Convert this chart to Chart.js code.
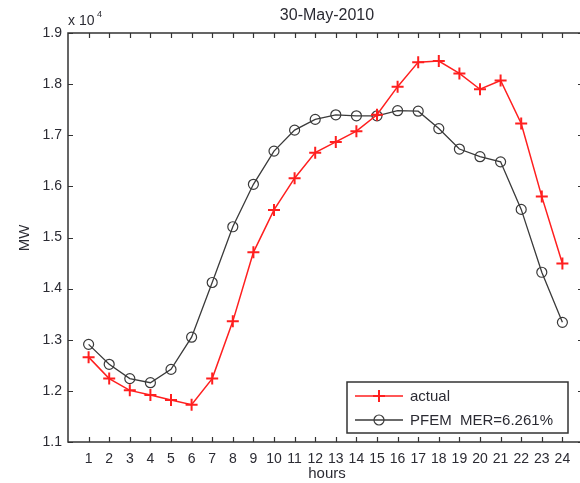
<!DOCTYPE html>
<html>
<head>
<meta charset="utf-8">
<script src="https://cdn.jsdelivr.net/npm/chart.js@4.4.1/dist/chart.umd.min.js"></script>
<style>
    html, body { margin: 0; padding: 0; background: #fff; overflow: hidden; }
    #wrap { width: 592px; height: 483px; }
</style>
</head>
<body>
<div id="wrap"><canvas id="myChart" width="592" height="483"></canvas></div>
<script>
const hours = [1, 2, 3, 4, 5, 6, 7, 8, 9, 10, 11, 12, 13, 14, 15, 16, 17, 18, 19, 20, 21, 22, 23, 24];
const actual = [12660, 12240, 12010, 11920, 11820, 11730, 12240, 13360, 14710, 15540, 16160, 16660,
    16870, 17080, 17400, 17950, 18430, 18450, 18210, 17900, 18070, 17230, 15800, 14490];
const pfem = [12910, 12520, 12240, 12160, 12420, 13050, 14120, 15210, 16040, 16690, 17100, 17310,
    17400, 17380, 17380, 17480, 17470, 17130, 16730, 16580, 16480, 15550, 14320, 13340];
const yTicks = [11000, 12000, 13000, 14000, 15000, 16000, 17000, 18000, 19000];

const titleText = '30-May-2010';
const xLabel = 'hours';
const yLabel = 'MW';
const legendLabels = ['actual', 'PFEM  MER=6.261%'];

const textColor = '#2b2b33';
const axisColor = '#333';
const fontFamily = '"Liberation Sans", Arial, Helvetica, sans-serif';

// draws the matlab style frame, inward ticks, labels and legend
const matlabFrame = {
    id: 'matlabFrame',
    beforeDatasetsDraw(chart) {
        const { ctx, chartArea: a, scales } = chart;
        ctx.save();
        ctx.strokeStyle = axisColor;
        ctx.lineWidth = 1.5;
        ctx.strokeRect(a.left, a.top, a.right - a.left, a.bottom - a.top);
        ctx.lineWidth = 1.2;
        ctx.beginPath();
        hours.forEach(h => {
            const x = Math.round(scales.x.getPixelForValue(h)) + 0.5;
            ctx.moveTo(x, a.bottom);
            ctx.lineTo(x, a.bottom - 5);
            ctx.moveTo(x, a.top);
            ctx.lineTo(x, a.top + 5);
        });
        yTicks.forEach(v => {
            const y = Math.round(scales.y.getPixelForValue(v)) + 0.5;
            ctx.moveTo(a.left, y);
            ctx.lineTo(a.left + 5, y);
            ctx.moveTo(a.right, y);
            ctx.lineTo(a.right - 5, y);
        });
        ctx.stroke();

        ctx.fillStyle = textColor;
        ctx.textBaseline = 'alphabetic';
        ctx.textAlign = 'center';
        ctx.font = '16px ' + fontFamily;
        ctx.fillText(titleText, 327, 20);
        ctx.font = '15px ' + fontFamily;
        ctx.fillText(xLabel, 327, 478);

        ctx.save();
        ctx.translate(29, 238);
        ctx.rotate(-Math.PI / 2);
        ctx.fillText(yLabel, 0, 0);
        ctx.restore();

        ctx.textAlign = 'left';
        ctx.font = '14px ' + fontFamily;
        ctx.fillText('x 10', 68, 25);
        ctx.font = '9px ' + fontFamily;
        ctx.fillText('4', 97, 17);
        ctx.restore();
    },
    afterDatasetsDraw(chart) {
        const { ctx } = chart;
        const box = { left: 347, top: 382, width: 221, height: 51 };
        ctx.save();
        ctx.fillStyle = '#fff';
        ctx.fillRect(box.left, box.top, box.width, box.height);
        ctx.strokeStyle = axisColor;
        ctx.lineWidth = 1.5;
        ctx.strokeRect(box.left, box.top, box.width, box.height);

        const rows = [box.top + 14, box.top + 38];
        chart.data.datasets.forEach((ds, i) => {
            const y = rows[i];
            ctx.strokeStyle = ds.borderColor;
            ctx.lineWidth = ds.borderWidth;
            ctx.beginPath();
            ctx.moveTo(355, y);
            ctx.lineTo(403, y);
            ctx.stroke();
            ctx.fillStyle = ds.backgroundColor;
            ctx.lineWidth = ds.pointBorderWidth;
            Chart.helpers.drawPoint(ctx, {
                pointStyle: ds.pointStyle,
                radius: ds.pointRadius,
                borderWidth: ds.pointBorderWidth,
                rotation: 0
            }, 379, y);
            ctx.fillStyle = textColor;
            ctx.font = '15px ' + fontFamily;
            ctx.textAlign = 'left';
            ctx.textBaseline = 'middle';
            ctx.fillText(legendLabels[i], 410, y + 1);
        });
        ctx.restore();
    }
};

new Chart(document.getElementById('myChart').getContext('2d'), {
    type: 'line',
    data: {
        datasets: [{
            label: legendLabels[0],
            data: hours.map((h, i) => ({ x: h, y: actual[i] })),
            borderColor: '#ff1f1f',
            backgroundColor: '#ff1f1f',
            borderWidth: 1.5,
            pointStyle: 'cross',
            pointRadius: 6,
            pointBorderWidth: 2,
            pointHoverRadius: 6
        }, {
            label: legendLabels[1],
            data: hours.map((h, i) => ({ x: h, y: pfem[i] })),
            borderColor: '#3a3a3a',
            backgroundColor: 'rgba(0,0,0,0)',
            borderWidth: 1.3,
            pointStyle: 'circle',
            pointRadius: 5,
            pointBorderWidth: 1.2,
            pointHoverRadius: 5
        }]
    },
    options: {
        responsive: false,
        animation: false,
        layout: { padding: { top: 33, right: 6, left: 0, bottom: 0 } },
        plugins: {
            legend: { display: false },
            tooltip: { enabled: false }
        },
        scales: {
            x: {
                type: 'linear',
                min: 0,
                max: 25,
                grid: { display: false, drawTicks: false },
                border: { display: false },
                afterFit: scale => { scale.height = 41; },
                ticks: {
                    stepSize: 1,
                    autoSkip: false,
                    maxRotation: 0,
                    padding: 9,
                    color: textColor,
                    font: { family: fontFamily, size: 14 },
                    callback: v => (v >= 1 && v <= 24 ? String(v) : '')
                }
            },
            y: {
                min: 11000,
                max: 19000,
                grid: { display: false, drawTicks: false },
                border: { display: false },
                afterFit: scale => { scale.width = 68; },
                ticks: {
                    stepSize: 1000,
                    padding: 6,
                    color: textColor,
                    font: { family: fontFamily, size: 14 },
                    callback: v => (v / 10000).toFixed(1)
                }
            }
        }
    },
    plugins: [matlabFrame]
});
</script>
</body>
</html>
